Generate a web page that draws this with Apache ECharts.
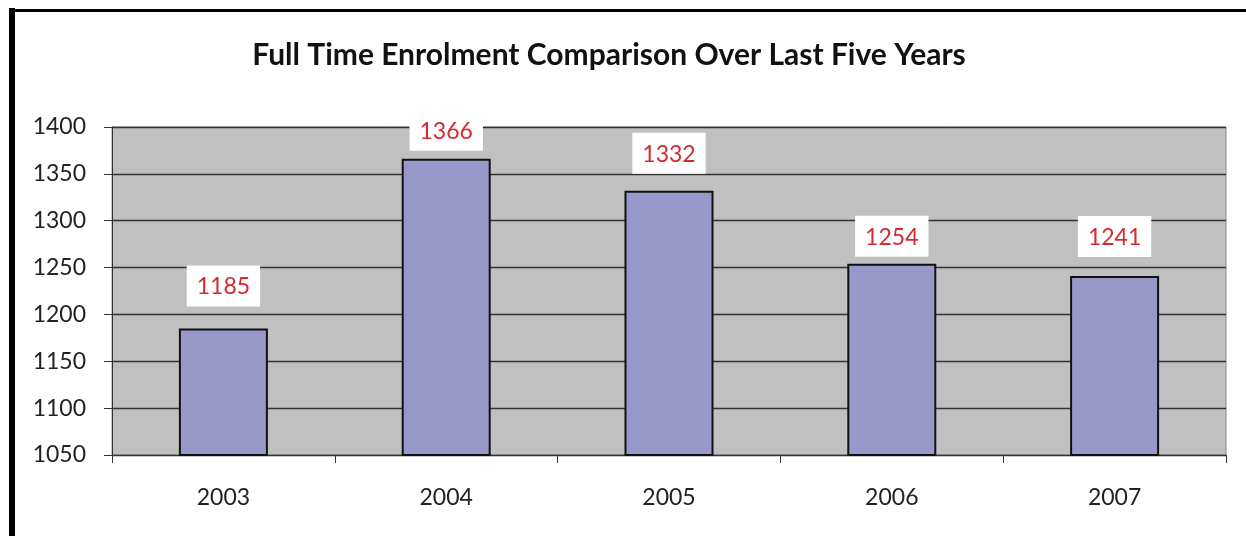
<!DOCTYPE html>
<html>
<head>
<meta charset="utf-8">
<script src="https://cdn.jsdelivr.net/npm/echarts@6/dist/echarts.min.js"></script>
<style>html,body{margin:0;padding:0;background:#fff;}#c{width:1246px;height:536px;}</style>
</head>
<body>
<div id="c"></div>
<script>
var titleText = 'Full Time Enrolment Comparison Over Last Five Years';
var years = ['2003', '2004', '2005', '2006', '2007'];
var enrolment = [1185, 1366, 1332, 1254, 1241];
var yMin = 1050, yMax = 1400, yStep = 50;

// label placement (style only): gap in px between bar top and its value box
var labelGaps = [22, 8, 17, 7, 19];

var seriesData = enrolment.map(function (v, i) {
  return { value: v, label: { distance: labelGaps[i] } };
});

var chart = echarts.init(document.getElementById('c'));
chart.setOption({
  animation: false,
  backgroundColor: '#ffffff',
  title: {
    text: titleText,
    left: 604,
    top: 35,
    textAlign: 'center',
    textStyle: { fontFamily: 'Lato', fontWeight: 'bold', fontSize: 30, color: '#111' }
  },
  graphic: [
    { type: 'line', shape: { x1: 12, y1: 8, x2: 12, y2: 540 }, style: { stroke: '#000', lineWidth: 6 } },
    { type: 'line', shape: { x1: 9, y1: 10.5, x2: 1250, y2: 10.5 }, style: { stroke: '#000', lineWidth: 3 } }
  ],
  grid: {
    left: 112, right: 20, top: 127, bottom: 81,
    show: true, backgroundColor: '#C0C0C0', borderColor: '#8a8a8a', borderWidth: 1
  },
  xAxis: {
    type: 'category',
    data: years,
    axisLine: { lineStyle: { color: '#333', width: 1 } },
    axisTick: { show: true, alignWithLabel: false, length: 8, lineStyle: { color: '#333' } },
    axisLabel: { fontFamily: 'Lato', fontSize: 23, color: '#222', margin: 31 }
  },
  yAxis: {
    type: 'value',
    min: yMin, max: yMax, interval: yStep,
    axisLine: { show: true, lineStyle: { color: '#333', width: 1 } },
    axisTick: { show: true, length: 8, lineStyle: { color: '#333' } },
    splitLine: { show: true, lineStyle: { color: '#333', width: 1.3 } },
    axisLabel: { fontFamily: 'Lato', fontSize: 23, color: '#222', margin: 26, formatter: function (v) { return String(v); } }
  },
  series: [{
    type: 'bar',
    data: seriesData,
    barWidth: 89,
    itemStyle: { color: '#9898CB', borderColor: '#111', borderWidth: 2 },
    label: {
      show: true,
      position: 'top',
      fontFamily: 'Lato',
      fontSize: 23,
      color: '#D42A32',
      backgroundColor: '#ffffff',
      padding: [10, 10, 8, 10]
    }
  }]
});
</script>
</body>
</html>
